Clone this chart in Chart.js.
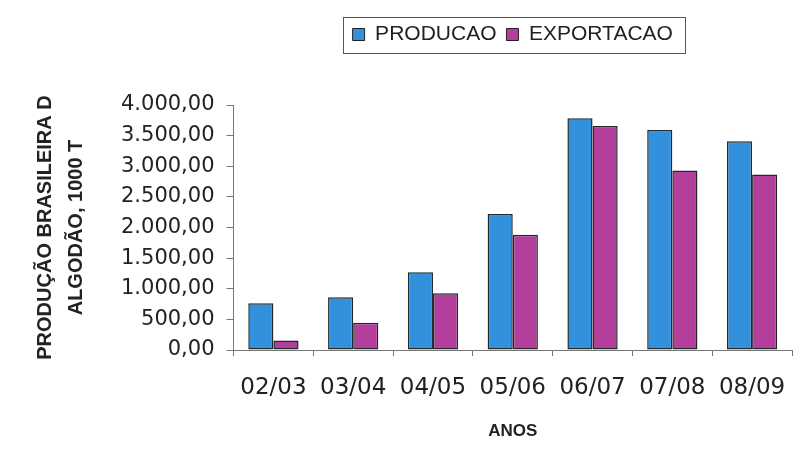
<!DOCTYPE html>
<html><head><meta charset="utf-8">
<script src="https://cdn.jsdelivr.net/npm/chart.js@4"></script>
<style>html,body{margin:0;padding:0;background:#fff}#w{width:800px;height:466px}</style>
</head><body><div id="w"><canvas id="c"></canvas></div>
<script>
const categories = ["02/03","03/04","04/05","05/06","06/07","07/08","08/09"];
const producao = [764, 862, 1268, 2222, 3785, 3593, 3409];
const exportacao = [157, 444, 927, 1881, 3659, 2932, 2867];
const seriesNames = ["PRODUCAO", "EXPORTACAO"];
const yTitle = ["PRODUÇÃO BRASILEIRA D", "ALGODÃO, 1000 T"];
const xTitle = "ANOS";

const fmt = v => {
  const s = Math.round(v).toString().replace(/\B(?=(\d{3})+(?!\d))/g, ".");
  return s + ",00";
};

const legendSpace = {
  id: 'legendSpace',
  beforeInit(chart) {
    const orig = chart.legend.fit;
    chart.legend.fit = function () { orig.call(this); this.height += 50; };
  },
  afterLayout(chart) {
    const lg = chart.legend;
    lg.left = chart.chartArea.left;
    lg.right = chart.chartArea.right;
    lg.width = lg.right - lg.left;
  }
};
const legendBorder = {
  id: 'legendBorder',
  afterDraw(chart) {
    const lg = chart.legend;
    if (!lg || !lg.legendHitBoxes.length) return;
    const hb = lg.legendHitBoxes;
    const l = Math.min(...hb.map(h => h.left)) - 10;
    const r = Math.max(...hb.map(h => h.left + h.width)) + 12;
    const t = Math.min(...hb.map(h => h.top)) - 7;
    const b = Math.max(...hb.map(h => h.top + h.height)) + 8;
    const ctx = chart.ctx;
    ctx.save();
    ctx.strokeStyle = '#555';
    ctx.lineWidth = 1;
    ctx.strokeRect(Math.round(l) + 0.5, Math.round(t) + 0.5, Math.round(r - l), Math.round(b - t));
    ctx.restore();
  }
};

new Chart(document.getElementById('c'), {
  type: 'bar',
  data: {
    labels: categories,
    datasets: [
      { label: seriesNames[0], data: producao, backgroundColor: '#3290dc', borderColor: '#1e2a2a', borderWidth: 1.5, borderSkipped: false },
      { label: seriesNames[1], data: exportacao, backgroundColor: '#b43e9c', borderColor: '#1e2a2a', borderWidth: 1.5, borderSkipped: false }
    ]
  },
  options: {
    responsive: true,
    maintainAspectRatio: false,
    animation: false,
    layout: { padding: { left: 30, right: 8, top: 14, bottom: 24 } },
    datasets: { bar: { categoryPercentage: 0.63, barPercentage: 1.0 } },
    plugins: {
      legend: {
        position: 'top',
        align: 'center',
        labels: {
          color: '#222',
          font: { family: 'Liberation Sans, Arial', size: 21 },
          boxWidth: 12, boxHeight: 12, padding: 10,
          generateLabels(chart) {
            return chart.data.datasets.map((d, i) => ({
              text: d.label, fillStyle: d.backgroundColor, strokeStyle: '#222',
              lineWidth: 1, hidden: false, datasetIndex: i, fontColor: '#222'
            }));
          }
        }
      },
      tooltip: { enabled: false }
    },
    scales: {
      x: {
        afterFit(scale) { scale.paddingRight = 0; scale.paddingLeft = 0; },
        grid: { display: true, drawOnChartArea: false, offset: true, color: '#777', tickLength: 6 },
        border: { display: true, color: '#777' },
        ticks: { color: '#222', font: { family: 'DejaVu Sans', size: 23 }, padding: 18, maxRotation: 0 },
        title: { display: true, text: xTitle, color: '#222', font: { family: 'Liberation Sans, Arial', size: 17, weight: 'bold' }, padding: { top: 2, bottom: 0 } }
      },
      y: {
        min: 0, max: 4000,
        grid: { display: true, drawOnChartArea: false, color: '#777', tickLength: 7 },
        border: { display: true, color: '#777' },
        ticks: { stepSize: 500, color: '#222', font: { family: 'DejaVu Sans', size: 21 }, padding: 12, callback: v => fmt(v) },
        title: { display: true, text: yTitle, color: '#222', font: { family: 'Liberation Sans, Arial', size: 20, weight: 'bold', lineHeight: 1.55 }, padding: { top: 0, bottom: 17 } }
      }
    }
  },
  plugins: [legendSpace, legendBorder]
});
</script>
</body></html>
